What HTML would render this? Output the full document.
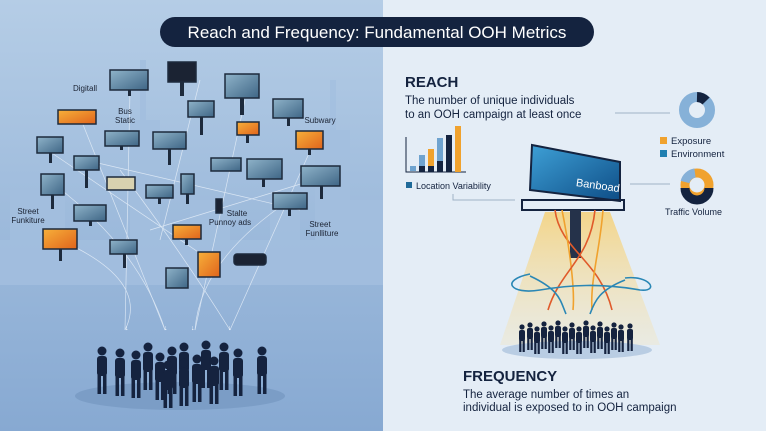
<!DOCTYPE html>
<html><head><meta charset="utf-8"><style>
html,body{margin:0;padding:0;width:766px;height:431px;overflow:hidden}
svg{display:block}
text{font-family:"Liberation Sans",sans-serif}
</style></head><body>
<svg width="766" height="431" viewBox="0 0 766 431" xmlns="http://www.w3.org/2000/svg">
<defs>
<linearGradient id="lg" x1="0" y1="0" x2="0" y2="1"><stop offset="0" stop-color="#b5cde6"/><stop offset="1" stop-color="#87a9d2"/></linearGradient>
<linearGradient id="beam" x1="0" y1="0" x2="0" y2="1"><stop offset="0" stop-color="#f3d58a"/><stop offset="1" stop-color="#f1e6c4" stop-opacity="0.4"/></linearGradient>
<linearGradient id="scr" x1="0" y1="0" x2="1" y2="1"><stop offset="0" stop-color="#8fb3c9"/><stop offset="1" stop-color="#3f6686"/></linearGradient>
<linearGradient id="org" x1="0" y1="0" x2="1" y2="1"><stop offset="0" stop-color="#f7b03a"/><stop offset="1" stop-color="#e0641c"/></linearGradient>
<linearGradient id="bb" x1="0" y1="0" x2="1" y2="1"><stop offset="0" stop-color="#3ea0d6"/><stop offset="1" stop-color="#0e4d86"/></linearGradient>
<g id="p"><circle cx="0" cy="-27" r="4.5"/><rect x="-5" y="-22" width="10" height="20" rx="3"/><rect x="-4.5" y="-4" width="3.5" height="20"/><rect x="1" y="-4" width="3.5" height="20"/></g>
<g id="q"><circle cx="0" cy="-15" r="2.6"/><rect x="-3" y="-12" width="6" height="11" rx="2"/><rect x="-2.8" y="-2" width="2.2" height="12"/><rect x="0.6" y="-2" width="2.2" height="12"/></g>
</defs>
<rect width="766" height="431" fill="#e4edf6"/>
<rect width="383" height="431" fill="url(#lg)"/>
<!-- skyline -->
<g fill="#a3bfdf" opacity="0.85">
<rect x="10" y="190" width="30" height="90"/><rect x="40" y="150" width="25" height="130"/><rect x="130" y="120" width="30" height="160"/><rect x="140" y="60" width="6" height="60"/>
<rect x="190" y="200" width="40" height="80"/><rect x="270" y="170" width="30" height="110"/><rect x="315" y="130" width="35" height="150"/><rect x="330" y="80" width="6" height="50"/><rect x="350" y="200" width="33" height="80"/><rect x="0" y="240" width="383" height="45"/>
</g>
<!-- connectors -->
<g stroke="#e9f1fa" stroke-width="0.7" fill="none" opacity="0.8">
<path d="M130 90 L125 330"/><path d="M80 117 L165 330"/><path d="M245 100 L195 330"/><path d="M315 140 L230 330"/><path d="M55 185 Q140 250 165 330"/><path d="M290 200 Q200 260 195 330"/><path d="M120 170 Q180 250 230 330"/><path d="M200 80 L160 240"/><path d="M60 240 Q150 280 125 330"/><path d="M330 175 L150 230"/><path d="M85 160 L300 210"/><path d="M40 145 L210 260"/>
</g>
<g fill="#fff" font-size="7"><text x="125" y="330">↓</text><text x="164" y="330">↓</text><text x="191" y="330">↓</text><text x="228" y="330">↓</text></g>
<!-- screens -->
<g stroke="#1d2a3c" stroke-width="1.5">
<rect x="110" y="70" width="38" height="20" fill="url(#scr)"/>
<rect x="168" y="62" width="28" height="20" fill="#1b2333"/>
<rect x="225" y="74" width="34" height="24" fill="url(#scr)"/>
<rect x="188" y="101" width="26" height="16" fill="url(#scr)"/>
<rect x="273" y="99" width="30" height="19" fill="url(#scr)"/>
<rect x="58" y="110" width="38" height="14" fill="url(#org)"/>
<rect x="37" y="137" width="26" height="16" fill="url(#scr)"/>
<rect x="105" y="131" width="34" height="15" fill="url(#scr)"/>
<rect x="153" y="132" width="33" height="17" fill="url(#scr)"/>
<rect x="237" y="122" width="22" height="13" fill="url(#org)"/>
<rect x="296" y="131" width="27" height="18" fill="url(#org)"/>
<rect x="74" y="156" width="25" height="14" fill="url(#scr)"/>
<rect x="211" y="158" width="30" height="13" fill="url(#scr)"/>
<rect x="247" y="159" width="35" height="20" fill="url(#scr)"/>
<rect x="301" y="166" width="39" height="20" fill="url(#scr)"/>
<rect x="41" y="174" width="23" height="21" fill="url(#scr)"/>
<rect x="107" y="177" width="28" height="13" fill="#d8d2b0"/>
<rect x="146" y="185" width="27" height="13" fill="url(#scr)"/>
<rect x="181" y="174" width="13" height="20" fill="url(#scr)"/>
<rect x="74" y="205" width="32" height="16" fill="url(#scr)"/>
<rect x="273" y="193" width="34" height="16" fill="url(#scr)"/>
<rect x="43" y="229" width="34" height="20" fill="url(#org)"/>
<rect x="173" y="225" width="28" height="14" fill="url(#org)"/>
<rect x="110" y="240" width="27" height="14" fill="url(#scr)"/>
<rect x="198" y="252" width="22" height="25" fill="url(#org)"/>
<rect x="166" y="268" width="22" height="20" fill="url(#scr)"/>
<rect x="234" y="254" width="32" height="11" rx="3" fill="#1b2333"/>
<rect x="216" y="199" width="6" height="14" fill="#1b2333"/>
</g>
<g fill="#1d2a3c">
<rect x="128" y="90" width="3" height="6"/><rect x="180" y="82" width="4" height="14"/><rect x="240" y="98" width="4" height="17"/><rect x="200" y="117" width="3" height="18"/><rect x="287" y="118" width="3" height="8"/><rect x="49" y="153" width="3" height="10"/><rect x="120" y="146" width="3" height="4"/><rect x="168" y="149" width="3" height="16"/><rect x="246" y="135" width="3" height="8"/><rect x="308" y="149" width="3" height="6"/><rect x="85" y="170" width="3" height="18"/><rect x="262" y="179" width="3" height="8"/><rect x="320" y="186" width="3" height="13"/><rect x="51" y="195" width="3" height="14"/><rect x="158" y="198" width="3" height="6"/><rect x="186" y="194" width="3" height="10"/><rect x="89" y="221" width="3" height="5"/><rect x="288" y="209" width="3" height="7"/><rect x="59" y="249" width="3" height="12"/><rect x="185" y="239" width="3" height="6"/><rect x="123" y="254" width="3" height="14"/>
</g>
<g font-size="8" fill="#1b2333" text-anchor="middle">
<text x="85" y="91">Digitall</text><text x="125" y="114">Bus</text><text x="125" y="123">Static</text><text x="320" y="123">Subwary</text><text x="28" y="214">Street</text><text x="28" y="223">Funkiture</text><text x="237" y="216">Stalte</text><text x="230" y="225">Punnoy ads</text><text x="320" y="227">Street</text><text x="322" y="236">Funlliture</text>
</g>
<!-- left crowd -->
<ellipse cx="180" cy="396" rx="105" ry="14" fill="#7b9dc6"/>
<g fill="#15233f">
<use href="#p" x="102" y="378"/><use href="#p" x="120" y="380"/><use href="#p" x="136" y="382"/><use href="#p" x="148" y="374"/><use href="#p" x="160" y="384"/><use href="#p" x="172" y="378"/><use href="#p" x="184" y="374"/><use href="#p" x="184" y="390"/><use href="#p" x="197" y="386"/><use href="#p" x="206" y="372"/><use href="#p" x="214" y="388"/><use href="#p" x="224" y="374"/><use href="#p" x="238" y="380"/><use href="#p" x="262" y="378"/><use href="#p" x="168" y="392"/>
</g>
<!-- title -->
<rect x="160" y="17" width="434" height="30" rx="15" fill="#14233f"/>
<text x="377" y="38" font-size="17" fill="#fff" text-anchor="middle">Reach and Frequency: Fundamental OOH Metrics</text>
<!-- right side -->
<text x="405" y="87" font-size="15" font-weight="bold" fill="#14233f">REACH</text>
<text x="405" y="104" font-size="11.5" fill="#14233f">The number of unique individuals</text>
<text x="405" y="118" font-size="11.5" fill="#14233f">to an OOH campaign at least once</text>
<path d="M406 137 V172 H466" stroke="#14233f" fill="none"/>
<g><rect x="410" y="166" width="6" height="5" fill="#6fa3cf"/><rect x="419" y="155" width="6" height="17" fill="#6fa3cf"/><rect x="428" y="149" width="6" height="23" fill="#f0a22e"/><rect x="437" y="138" width="6" height="34" fill="#6fa3cf"/><rect x="446" y="135" width="6" height="37" fill="#14233f"/><rect x="455" y="126" width="6" height="46" fill="#f0a22e"/><rect x="419" y="166" width="6" height="6" fill="#14233f"/><rect x="428" y="166" width="6" height="6" fill="#14233f"/><rect x="437" y="161" width="6" height="11" fill="#14233f"/></g>
<rect x="406" y="182" width="6" height="6" fill="#1f6a99"/><text x="416" y="189" font-size="9" fill="#14233f">Location Variability</text>
<path d="M453 194 V200 H515" stroke="#9fb2c6" fill="none"/>
<path d="M615 113 H670 M630 184 H670" stroke="#9fb2c6"/>
<circle cx="697" cy="110" r="13" fill="none" stroke="#86b1d8" stroke-width="10"/>
<path d="M697 97 A13 13 0 0 1 706 101" stroke="#14233f" stroke-width="10" fill="none"/>
<rect x="660" y="137" width="7" height="7" fill="#f0a22e"/><text x="671" y="144" font-size="9.5" fill="#14233f">Exposure</text>
<rect x="660" y="150" width="7" height="7" fill="#1f7fb0"/><text x="671" y="157" font-size="9.5" fill="#14233f">Environment</text>
<circle cx="697" cy="185" r="12" fill="none" stroke="#f0a22e" stroke-width="9"/>
<path d="M709 188 A12 12 0 0 1 685 188" stroke="#14233f" stroke-width="9" fill="none"/>
<path d="M685 182 A12 12 0 0 1 695 173" stroke="#86b1d8" stroke-width="9" fill="none"/>
<text x="665" y="215" font-size="9" fill="#14233f">Traffic Volume</text>
<!-- beam -->
<polygon points="545,212 610,212 660,345 500,345" fill="url(#beam)"/>
<ellipse cx="577" cy="350" rx="75" ry="9" fill="#b9cde3"/>
<!-- billboard -->
<polygon points="532,145 620,162 620,201 530,190" fill="url(#bb)" stroke="#14233f" stroke-width="2"/>
<text x="576" y="186" font-size="11" fill="#fff" transform="rotate(8 576 183)">Banboad</text>
<rect x="522" y="200" width="102" height="10" fill="none" stroke="#14233f" stroke-width="2"/>
<rect x="570" y="210" width="11" height="48" fill="#25324a"/>
<g fill="none" stroke-width="1.6">
<path d="M555 210 C560 250 600 260 612 310" stroke="#e05a2a"/><path d="M562 210 C570 250 575 290 573 310" stroke="#f0a22e"/><path d="M595 210 C590 260 560 270 548 310" stroke="#e05a2a"/><path d="M603 210 C600 250 590 280 592 310" stroke="#f0a22e"/>
<path d="M530 274 C500 280 510 295 540 290 C570 285 600 283 640 290 C660 292 650 275 625 278" stroke="#2a87b5"/>
<path d="M530 276 C560 290 560 300 566 314" stroke="#2a87b5"/><path d="M625 280 C600 290 595 300 590 314" stroke="#2a87b5"/>
</g>
<g fill="#15233f">
<use href="#q" x="522" y="342"/><use href="#q" x="530" y="340"/><use href="#q" x="537" y="344"/><use href="#q" x="544" y="339"/><use href="#q" x="551" y="343"/><use href="#q" x="558" y="338"/><use href="#q" x="565" y="344"/><use href="#q" x="572" y="340"/><use href="#q" x="579" y="344"/><use href="#q" x="586" y="338"/><use href="#q" x="593" y="343"/><use href="#q" x="600" y="339"/><use href="#q" x="607" y="344"/><use href="#q" x="614" y="340"/><use href="#q" x="621" y="342"/><use href="#q" x="630" y="341"/>
</g>
<text x="463" y="381" font-size="15" font-weight="bold" fill="#14233f">FREQUENCY</text>
<text x="463" y="398" font-size="11.5" fill="#14233f">The average number of times an</text>
<text x="463" y="411" font-size="11.5" fill="#14233f">individual is exposed to in OOH campaign</text>
</svg>
</body></html>
